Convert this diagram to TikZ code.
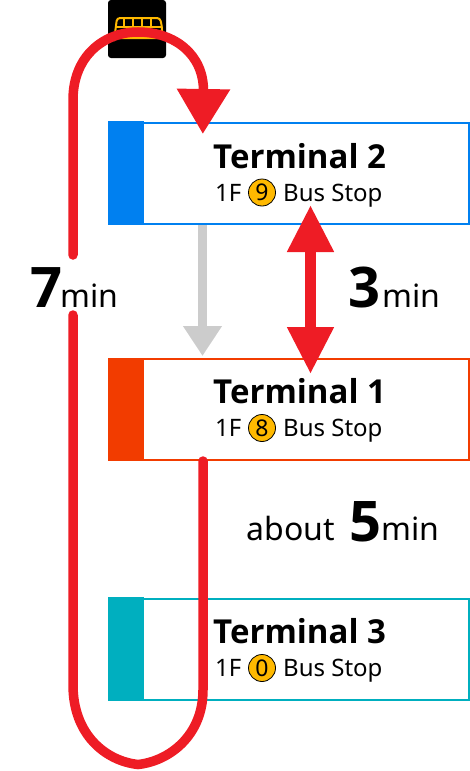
\documentclass[tikz,border=0pt]{standalone}
\usepackage{fontspec}
\setmainfont{Noto Sans}[BoldFont={Open Sans Bold}]
\usetikzlibrary{arrows.meta}
\definecolor{routered}{HTML}{EE1C25}
\definecolor{arrowgray}{HTML}{CCCCCC}
\definecolor{stopyellow}{HTML}{FFB900}
\definecolor{termblue}{HTML}{0080F0}
\definecolor{termorange}{HTML}{F23C00}
\definecolor{termteal}{HTML}{00AFBF}
\tikzset{
  termbox/.style={draw, line width=2pt, minimum width=360pt, minimum height=101pt, inner sep=0pt, anchor=north west},
  termtab/.style={minimum width=36pt, minimum height=103pt, inner sep=0pt, anchor=north west},
  termname/.style={anchor=base west, inner sep=0pt, font=\fontsize{33}{33}\selectfont\bfseries},
  stoptext/.style={anchor=base west, inner sep=0pt, font=\fontsize{24}{24}\selectfont},
  stopnum/.style={circle, draw=black, line width=0.8pt, fill=stopyellow, minimum size=27pt, inner sep=0pt, font=\fontsize{23}{23}\selectfont},
  bignum/.style={anchor=base west, inner sep=0pt, font=\fontsize{56}{56}\selectfont\bfseries},
  unit/.style={anchor=base west, inner sep=0pt, font=\fontsize{32}{33}\selectfont},
  route/.style={routered, line width=9.5pt, line cap=round},
  routearrow/.style={route, -{Triangle[width=51pt,length=45pt]}},
  doublearrow/.style={routered, line width=11pt, {Triangle[width=44pt,length=47pt]}-{Triangle[width=44pt,length=47pt]}},
  grayarrow/.style={arrowgray, line width=9pt, -{Triangle[width=37pt,length=30pt]}}
}
\begin{document}
\begin{tikzpicture}[x=1pt, y=-1pt]
\useasboundingbox (0,0) rectangle (470,771);

\node[fill=black, rounded corners=3pt, minimum width=58pt, minimum height=58pt, inner sep=0pt] (bus) at (137,29) {}; % bus sign
\draw[stopyellow, line width=2pt, rounded corners=3pt] (114,41) -- (117,18) -- (160,18) -- (162,27) -- (162,38) -- (114,38); % bus body
\draw[stopyellow, line width=1.5pt] (124,18) -- (124,27) (133,18) -- (133,27) (142,18) -- (142,27) (151,18) -- (151,27) (115,27) -- (162,27); % bus windows

\node[termbox, draw=termblue] (t2) at (108,122) {}; % Terminal 2 box
\node[termtab, fill=termblue] (tab2) at (108,121) {}; % Terminal 2 tab
\node[termbox, draw=termorange] (t1) at (108,358) {}; % Terminal 1 box
\node[termtab, fill=termorange] (tab1) at (108,358) {}; % Terminal 1 tab
\node[termbox, draw=termteal] (t3) at (108,598) {}; % Terminal 3 box
\node[termtab, fill=termteal] (tab3) at (108,597) {}; % Terminal 3 tab

\coordinate (stopline) at (203,0); % x of the route
\coordinate (grayline) at (202.5,0); % x of the gray arrow
\coordinate (linkline) at (310.5,0); % x of the double arrow
\coordinate (gapend) at (73,255); % upper end of the gap at 7min
\coordinate (gapstart) at (73,315); % lower end of the gap at 7min

\draw[grayarrow, shorten >=2pt] (grayline |- t2.south) -- (grayline |- t1.north); % Terminal 2 to 1
\draw[doublearrow, shorten <=-20pt, shorten >=-16pt] (linkline |- t2.south) -- (linkline |- t1.north); % Terminal 2 and 1

\draw[route] (stopline |- t1.south) -- (203,690) .. controls (203,735) and (170,761) .. (138,764.5) .. controls (106,761) and (73,735) .. (73,685) -- (gapstart); % route, lower part
\draw[routearrow, shorten >=-12pt] (gapend) -- (73,100) .. controls (73,55) and (105,32) .. (138,32) .. controls (175,32) and (204,55) .. (stopline |- t2.north); % route, upper part

\node[termname] (name2) at (213,168) {Terminal 2}; % Terminal 2 name
\node[stoptext] (floor2) at (215,201) {1F}; % Terminal 2 floor
\node[stopnum] (num2) at (262,192.5) {9}; % Terminal 2 stop number
\node[stoptext] (stop2) at (283,201) {Bus Stop}; % Terminal 2 stop

\node[termname] (name1) at (213,403) {Terminal 1}; % Terminal 1 name
\node[stoptext] (floor1) at (215,436) {1F}; % Terminal 1 floor
\node[stopnum] (num1) at (262,428) {8}; % Terminal 1 stop number
\node[stoptext] (stop1) at (283,436) {Bus Stop}; % Terminal 1 stop

\node[termname] (name3) at (213,643) {Terminal 3}; % Terminal 3 name
\node[stoptext] (floor3) at (215,676) {1F}; % Terminal 3 floor
\node[stopnum] (num3) at (262,668) {0}; % Terminal 3 stop number
\node[stoptext] (stop3) at (283,676) {Bus Stop}; % Terminal 3 stop

\node[bignum] (seven) at (30,307) {7}; % 7min label
\node[unit] (sevenmin) at (60,307) {min};
\node[bignum] (three) at (348,307) {3}; % 3min label
\node[unit] (threemin) at (382,307) {min};
\node[unit] (about) at (246.5,540) {about}; % about 5min label
\node[bignum] (five) at (349,541) {5};
\node[unit] (fivemin) at (381,540) {min};
\end{tikzpicture}
\end{document}
